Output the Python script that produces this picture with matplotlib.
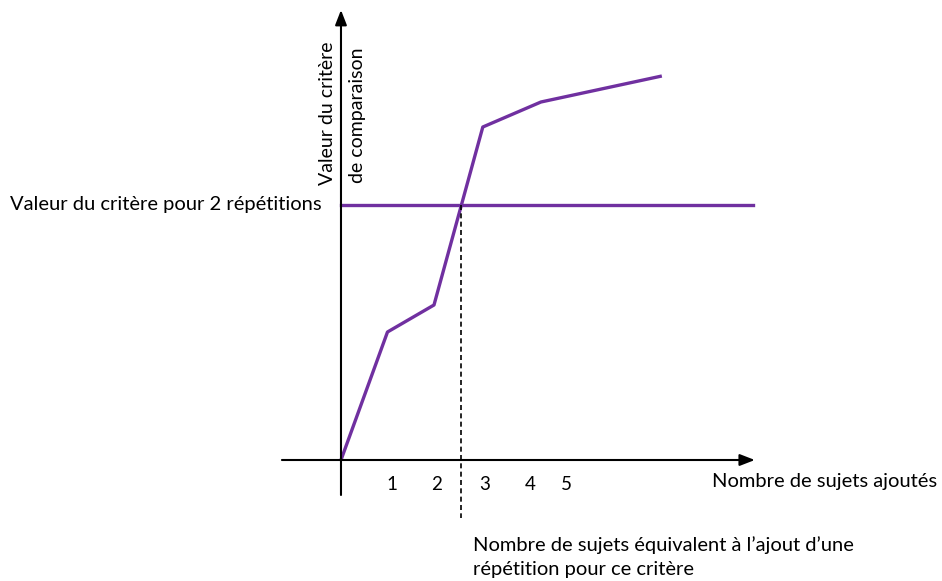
import numpy as np
import matplotlib.pyplot as plt

# données
x_sujets = [0, 1, 2, 3.05, 4.3, 6.9]
valeurs = [0, 1.28, 1.55, 3.33, 3.58, 3.84]
valeur_ref = 2.55
tick_pos = [1.1, 2.06, 3.08, 4.06, 4.84]
tick_labels = ['1', '2', '3', '4', '5']

violet = '#7030A0'
plt.rcParams['font.family'] = ['Lato', 'DejaVu Sans']

fig = plt.figure(figsize=(9.42, 5.81), dpi=100)
ax = fig.add_axes([0, 0, 1, 1])
ax.set_xlim(-7.333, 12.925)
ax.set_ylim(-1.21, 4.60)
ax.axis('off')

# axes avec flèches
arrow = dict(arrowstyle='-|>,head_length=0.9,head_width=0.35', color='black', lw=1.5,
             shrinkA=0, shrinkB=0)
ax.annotate('', xy=(8.9, 0), xytext=(-1.27, 0), arrowprops=arrow)
ax.annotate('', xy=(0, 4.5), xytext=(0, -0.35), arrowprops=arrow)

# courbe et niveau de référence
ax.plot(x_sujets, valeurs, color=violet, lw=2.4, solid_capstyle='butt')
ax.plot([0, 8.86], [valeur_ref, valeur_ref], color=violet, lw=2.4)

# croisement
x_eq = np.interp(valeur_ref, valeurs, x_sujets)
ax.plot([x_eq, x_eq], [valeur_ref, -0.58], color='black', lw=1.2, ls=(0, (3, 2)))

fs = 14.5
for p, t in zip(tick_pos, tick_labels):
    ax.text(p, -0.25, t, ha='center', va='center', fontsize=13.5)

ax.text(-7.12, valeur_ref, 'Valeur du critère pour 2 répétitions', ha='left', va='center', fontsize=fs)
ax.text(7.98, -0.21, 'Nombre de sujets ajoutés', ha='left', va='center', fontsize=fs)
ax.text(2.84, -0.85, 'Nombre de sujets équivalent à l\u2019ajout d\u2019une', ha='left', va='center', fontsize=fs)
ax.text(2.84, -1.09, 'répétition pour ce critère', ha='left', va='center', fontsize=fs)

ax.text(-0.28, 2.75, 'Valeur du critère', rotation=90, ha='center', va='bottom', fontsize=14)
ax.text(0.36, 2.77, 'de comparaison', rotation=90, ha='center', va='bottom', fontsize=14)

fig.savefig('out.png', dpi=100)
